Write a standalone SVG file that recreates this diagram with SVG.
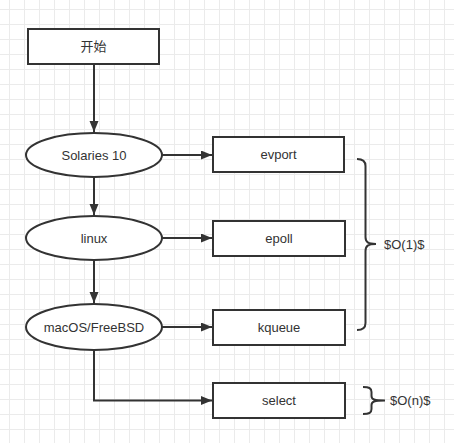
<svg xmlns="http://www.w3.org/2000/svg" width="454" height="443" viewBox="0 0 454 443">
<style>
.box{fill:#fff;stroke:#333;stroke-width:2}
.lbl{font-family:"Liberation Sans","Noto Sans CJK SC",sans-serif;font-size:13px;fill:#333;text-anchor:middle;dominant-baseline:central}
.note{font-family:"Liberation Sans",sans-serif;font-size:13px;fill:#333;dominant-baseline:central}
.edge{fill:none;stroke:#333;stroke-width:2}
.brace{fill:none;stroke:#333;stroke-width:2}
</style>
<defs>
<pattern id="grid" patternUnits="userSpaceOnUse" x="9" y="9" width="15" height="15">
<path d="M0 0.5H15M0.5 0V15" stroke="#ebebeb" stroke-width="1" fill="none"/>
</pattern>
<marker id="arr" markerUnits="userSpaceOnUse" markerWidth="12" markerHeight="10" refX="11" refY="4.5" orient="auto">
<path d="M0,0 L11,4.5 L0,9 Z" fill="#333"/>
</marker>
</defs>
<rect width="454" height="443" fill="#fff"/>
<rect width="454" height="443" fill="url(#grid)"/>
<g id="connectors">
<path class="edge" d="M94,64 V132" marker-end="url(#arr)"/>
<path class="edge" d="M94,177 V215" marker-end="url(#arr)"/>
<path class="edge" d="M94,260 V303" marker-end="url(#arr)"/>
<path class="edge" d="M94,350 V400.5 H212" marker-end="url(#arr)"/>
<path class="edge" d="M162,155 H212" marker-end="url(#arr)"/>
<path class="edge" d="M162,238 H212" marker-end="url(#arr)"/>
<path class="edge" d="M162,327 H212" marker-end="url(#arr)"/>
</g>
<g id="start"><rect class="box" x="28" y="29" width="131" height="35"/><text class="lbl" x="93.5" y="46.5">开始</text></g>
<g id="solaris"><ellipse class="box" cx="94" cy="155" rx="68" ry="22"/><text class="lbl" x="94" y="155">Solaries 10</text></g>
<g id="linux"><ellipse class="box" cx="94" cy="238" rx="68" ry="22"/><text class="lbl" x="94" y="238">linux</text></g>
<g id="macos"><ellipse class="box" cx="94" cy="327" rx="68" ry="23"/><text class="lbl" x="94" y="327">macOS/FreeBSD</text></g>
<g id="evport"><rect class="box" x="213" y="137" width="131" height="35"/><text class="lbl" x="278.5" y="154.5">evport</text></g>
<g id="epoll"><rect class="box" x="213" y="221" width="132" height="35"/><text class="lbl" x="279" y="238.5">epoll</text></g>
<g id="kqueue"><rect class="box" x="213" y="310" width="132" height="35"/><text class="lbl" x="279" y="327.5">kqueue</text></g>
<g id="select"><rect class="box" x="213" y="383" width="132" height="35"/><text class="lbl" x="279" y="400.5">select</text></g>
<g id="brace-o1"><path class="brace" d="M357,159 C363,159 365.5,161 365.5,166 V237 C365.5,242 368,244 376,244 C368,244 365.5,246 365.5,251 V323 C365.5,328 363,330 357,330"/><text class="note" x="384" y="244">$O(1)$</text></g>
<g id="brace-on"><path class="brace" d="M363,387 C369,387 371.5,388 371.5,392 V396 C371.5,399.5 374,400.5 385,400.5 C374,400.5 371.5,401.5 371.5,405 V409 C371.5,413 369,414 363,414"/><text class="note" x="390" y="400.5">$O(n)$</text></g>
</svg>
